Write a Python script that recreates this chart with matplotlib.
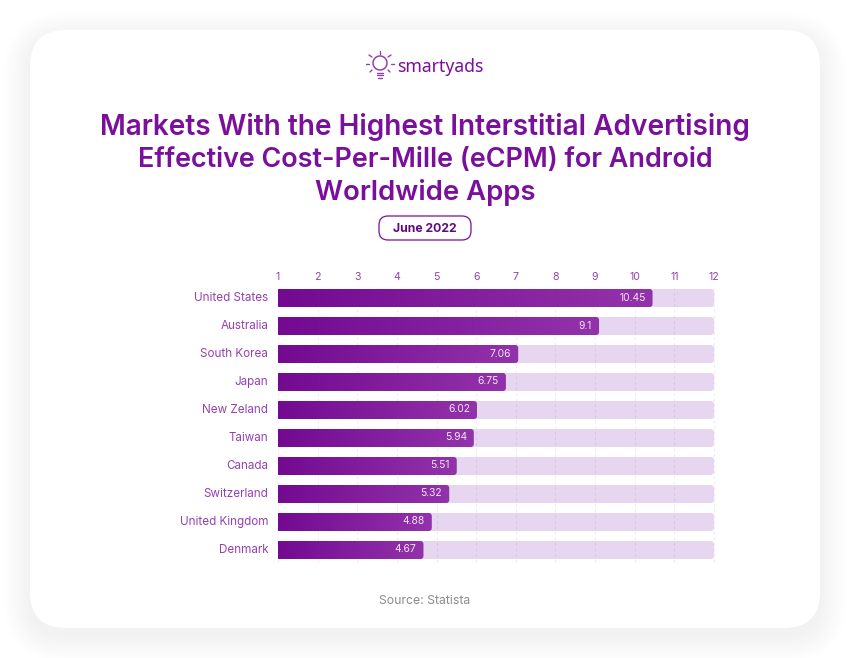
import matplotlib
matplotlib.use('Agg')
import matplotlib.pyplot as plt
import numpy as np
from matplotlib.colors import LinearSegmentedColormap
from matplotlib.patches import FancyBboxPatch, Circle
from matplotlib.transforms import ScaledTranslation

plt.rcParams['font.family'] = ['Inter', 'DejaVu Sans']

countries = ['United States', 'Australia', 'South Korea', 'Japan', 'New Zeland',
             'Taiwan', 'Canada', 'Switzerland', 'United Kingdom', 'Denmark']
ecpm = [10.45, 9.1, 7.06, 6.75, 6.02, 5.94, 5.51, 5.32, 4.88, 4.67]
ecpm_labels = ['10.45', '9.1', '7.06', '6.75', '6.02', '5.94', '5.51', '5.32', '4.88', '4.67']
ticks = [1, 2, 3, 4, 5, 6, 7, 8, 9, 10, 11, 12]
title_lines = ['Markets With the Highest Interstitial Advertising',
               'Effective Cost-Per-Mille (eCPM) for Android',
               'Worldwide Apps']

W, H = 850, 658
PURPLE = '#7a0f9c'
TEXT = '#9440b0'
TRACK = '#e7d6ef'
cmap = LinearSegmentedColormap.from_list('bar', ['#730a91', '#9333ab'])

fig = plt.figure(figsize=(W / 100, H / 100), dpi=100, facecolor='white')

# background layer in pixels
bg = fig.add_axes([0, 0, 1, 1])
bg.set_xlim(0, W)
bg.set_ylim(H, 0)
bg.axis('off')

# soft shadow
for grow in range(26, 0, -2):
    bg.add_patch(FancyBboxPatch((30 - grow + 36, 30 - grow + 8 + 36), 790 + 2 * grow - 72, 598 + 2 * grow - 72,
                                boxstyle='round,pad=36,rounding_size=%d' % (36 + grow),
                                fc='black', ec='none', alpha=0.0038))
bg.add_patch(FancyBboxPatch((66, 66), 718, 526, boxstyle='round,pad=36,rounding_size=36', fc='white', ec='none'))

# logo
lamp_x, lamp_y = 380, 63
bg.add_patch(Circle((lamp_x, lamp_y), 7, fc='none', ec='#9440b0', lw=1.1))
for x0, y0, x1, y1 in [(380, 51, 380, 54), (369, 55, 372, 57), (391, 55, 388, 57), (366, 64, 369, 64),
                       (394, 64, 391, 64), (370, 72, 372, 70), (390, 72, 388, 70),
                       (377, 72.5, 383, 72.5), (377, 75, 383, 75), (378, 77.5, 382, 77.5)]:
    bg.plot([x0, x1], [y0, y1], color='#9440b0', lw=1.0, solid_capstyle='round')
bg.text(397, 67, 'smartyads', family='Noto Sans', fontsize=12.7, fontweight='medium', color=PURPLE,
        ha='left', va='center')

# title, each line sized to the width it has in the original font
for line, y, size in zip(title_lines, [127, 160, 192], [20.2, 19.4, 19.8]):
    bg.text(425, y, line, fontsize=size, fontweight='semibold', color=PURPLE, ha='center', va='center')

# date pill
bg.add_patch(FancyBboxPatch((388, 225), 74, 6, boxstyle='round,pad=9,rounding_size=9',
                            fc='white', ec=PURPLE, lw=0.9))
bg.text(425, 228.5, 'June 2022', fontsize=8.8, fontweight='bold', color='#5f0b80', ha='center', va='center')

bg.text(425, 600.5, 'Source: Statista', fontsize=8.8, color='#8c8c8c', ha='center', va='center')

# chart
top_px, bottom_px = 288, 562
ax = fig.add_axes([278 / W, 1 - bottom_px / H, (714 - 278) / W, (bottom_px - top_px) / H])
ax.patch.set_alpha(0)
ax.set_xlim(1, 12)
ax.set_ylim((bottom_px - 298) / 28, (top_px - 298) / 28)
for s in ax.spines.values():
    s.set_visible(False)

y_pos = np.arange(len(countries))
bar_h = 18 / 28
x_per_px = 11 / 436
y_per_px = 1 / 28
gradient = np.linspace(0, 1, 256).reshape(1, -1)

def rounded(x_end, y):
    # starts left of the axes so only the right corners show rounded
    r = 3 * x_per_px
    start = 0.5
    return FancyBboxPatch((start + r, y - bar_h / 2 + 3 * y_per_px), x_end - start - 2 * r, bar_h - 6 * y_per_px,
                          boxstyle='round,pad=%f,rounding_size=%f' % (r, r),
                          mutation_aspect=y_per_px / x_per_px, ec='none')

for y, val, lab in zip(y_pos, ecpm, ecpm_labels):
    track = rounded(12, y)
    track.set_facecolor(TRACK)
    ax.add_patch(track)
    im = ax.imshow(gradient, extent=(1, val, y + bar_h / 2, y - bar_h / 2), cmap=cmap, aspect='auto', zorder=2)
    clip = rounded(val, y)
    clip.set_transform(ax.transData)
    im.set_clip_path(clip)
    ax.text(val - 7 * x_per_px, y - 0.5 * y_per_px, lab, color='#f3e6f8', fontsize=7.4, ha='right', va='center',
            zorder=4)

ax.set_xlim(1, 12)
ax.set_ylim((bottom_px - 298) / 28, (top_px - 298) / 28)

ax.vlines(ticks, *ax.get_ylim(), color='#8a2fa8', alpha=0.10, lw=0.8, linestyles=(0, (2.5, 2.5)), zorder=3,
          clip_on=False)

ax.xaxis.tick_top()
ax.set_xticks(ticks)
ax.set_xticklabels([str(t) for t in ticks], fontsize=7.6, color=TEXT)
ax.tick_params(axis='x', length=0, pad=4)
ax.set_yticks(y_pos)
ax.set_yticklabels(countries, fontsize=8.4, color=TEXT)
ax.tick_params(axis='y', length=0, pad=7)
# category names sit a little above the bar centres
shift = ScaledTranslation(0, 1.5 / 100, fig.dpi_scale_trans)
for lab in ax.get_yticklabels():
    lab.set_transform(lab.get_transform() + shift)

fig.savefig('out.png', dpi=100, facecolor='white')
